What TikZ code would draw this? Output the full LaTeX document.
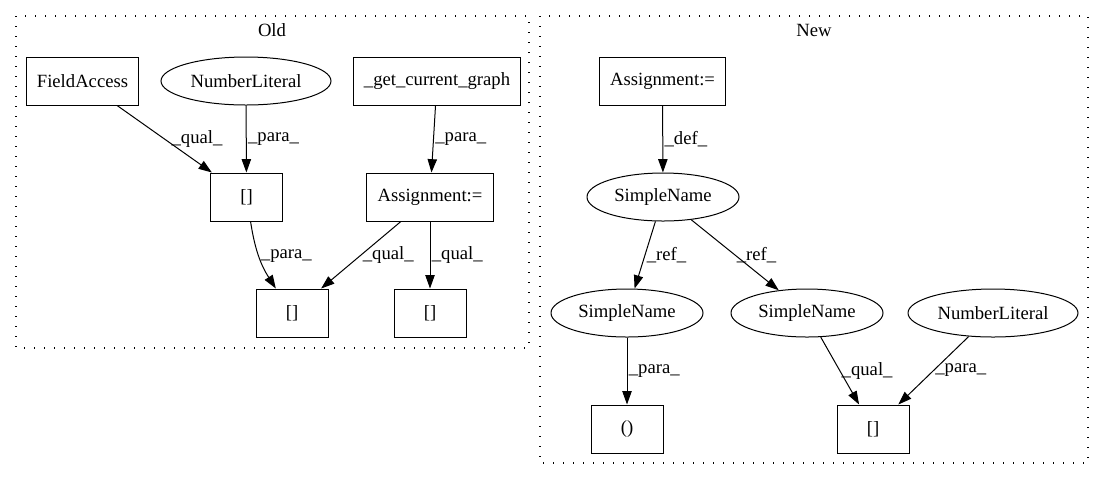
\documentclass[tikz,border=0pt]{standalone}
\usepackage{fontspec}
\setmainfont{Liberation Serif}
\usetikzlibrary{arrows.meta}
\usetikzlibrary{shapes.geometric}

\begin{document}
\begin{tikzpicture}[x=0.75pt, y=-0.75pt, font=\fontsize{14}{16}\selectfont,
        box/.style={rectangle, draw=black, line width=0.75pt, minimum width=54pt, minimum height=36pt, inner xsep=8pt},
        oval/.style={ellipse, draw=black, line width=0.75pt, minimum width=114pt, minimum height=36pt, inner sep=0pt},
        edge/.style={-{Triangle[length=10pt,width=7pt]}, line width=0.75pt},
        lbl/.style={right, inner sep=1pt},
        cluster/.style={draw=black, line width=0.9pt, dash pattern=on 1pt off 6.5pt}]
        	\useasboundingbox (0,0) rectangle (1105,480);
        	% Old
        	\draw [cluster] (16,16) rectangle (529,348);
        	\node (oldtitle) at (272,30) {Old};
        	\node [box] (fieldacc) at (82.5,81) {FieldAccess};
        	\node [oval, minimum width=127.5pt] (numlit) at (246,81) {NumberLiteral};
        	\node [box] (getgraph) at (437,81) {\_get\_current\_graph};
        	\node [box] (idxa) at (246.5,197) {[]};
        	\node [box] (assignold) at (430,197) {Assignment:=};
        	\node [box] (idxb) at (292,313) {[]};
        	\node [box] (idxc) at (430,313) {[]};
        	\draw [edge] (fieldacc) -- node [lbl, xshift=4pt] {\_qual\_} (idxa);
        	\draw [edge] (numlit) -- node [lbl] {\_para\_} (idxa);
        	\draw [edge] (getgraph) -- node [lbl] {\_para\_} (assignold);
        	\draw [edge] (idxa) to [bend right=12] node [lbl] {\_para\_} (idxb);
        	\draw [edge] (assignold) -- node [lbl] {\_qual\_} (idxb);
        	\draw [edge] (assignold) -- node [lbl] {\_qual\_} (idxc);
        	% New
        	\draw [cluster] (540,16) rectangle (1088,463);
        	\node (newtitle) at (814,30) {New};
        	\node [box] (assignnew) at (662.5,81) {Assignment:=};
        	\node [oval] (sname) at (663,197) {SimpleName};
        	\node [oval] (snamea) at (627,313) {SimpleName};
        	\node [oval] (snameb) at (807,313) {SimpleName};
        	\node [oval, minimum width=127.5pt] (numlitnew) at (993,313) {NumberLiteral};
        	\node [box] (call) at (627,429) {()};
        	\node [box] (idxd) at (873,429) {[]};
        	\draw [edge] (assignnew) -- node [lbl] {\_def\_} (sname);
        	\draw [edge] (sname) -- node [lbl] {\_ref\_} (snamea);
        	\draw [edge] (sname) -- node [lbl] {\_ref\_} (snameb);
        	\draw [edge] (snamea) -- node [lbl] {\_para\_} (call);
        	\draw [edge] (snameb) -- node [lbl] {\_qual\_} (idxd);
        	\draw [edge] (numlitnew) -- node [lbl] {\_para\_} (idxd);
        \end{tikzpicture}
\end{document}
